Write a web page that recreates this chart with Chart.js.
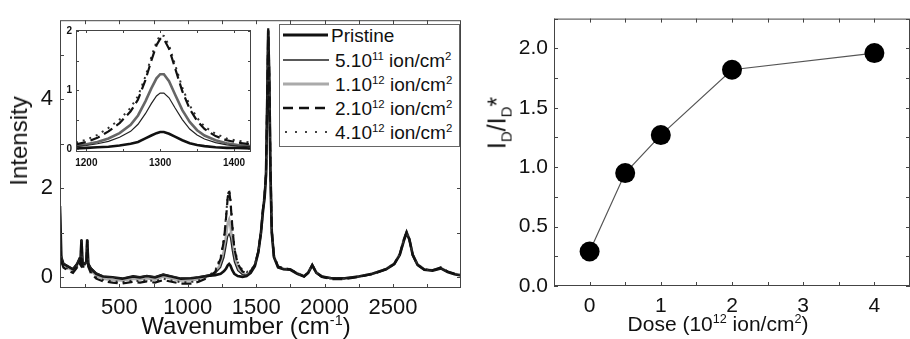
<!DOCTYPE html>
<html lang="en">
<head>
<meta charset="UTF-8">
<title>Raman spectra vs ion dose</title>
<script src="https://cdn.jsdelivr.net/npm/chart.js"></script>
<style>
    body { margin: 0; width: 910px; height: 339px; overflow: hidden; background: #fff; position: relative;
           font-family: "Liberation Sans", Arial, sans-serif; color: #111; }
    canvas { position: absolute; }
    #main { left: 0; top: 0; }
    #inset { left: 60px; top: 20px; }
    #dose { left: 480px; top: 0; }
    .lbl { position: absolute; transform: translate(-50%, -50%); white-space: nowrap; line-height: 1; }
    .rot { transform: translate(-50%, -50%) rotate(-90deg); }
    sup, sub { font-size: 60%; line-height: 0; }
    #legend { position: absolute; left: 279px; top: 24px; width: 181px; height: 123px; box-sizing: border-box;
              border: 1px solid #666; background: #fff; font-size: 19px; }
    .row { position: absolute; left: 0; width: 100%; height: 24px; }
    .row svg { position: absolute; left: 3px; top: 9px; }
    .row span { position: absolute; left: 55px; top: 3px; line-height: 1; white-space: nowrap; }
</style>
</head>
<body>
<canvas id="main" width="470" height="339"></canvas>
<canvas id="inset" width="195" height="152"></canvas>
<canvas id="dose" width="440" height="339"></canvas>

<!-- legend of the left panel -->
<div id="legend">
    <div class="row" style="top:-2px"><svg width="48" height="6"><line x1="0" y1="3" x2="45" y2="3" stroke="#111" stroke-width="3"/></svg><span style="left:51px">Pristine</span></div>
    <div class="row" style="top:23px"><svg width="48" height="6"><line x1="0" y1="3" x2="46" y2="3" stroke="#222" stroke-width="1.3"/></svg><span>5.10<sup>11</sup> ion/cm<sup>2</sup></span></div>
    <div class="row" style="top:47px"><svg width="48" height="6"><line x1="0" y1="3" x2="46" y2="3" stroke="#aaa" stroke-width="3"/></svg><span>1.10<sup>12</sup> ion/cm<sup>2</sup></span></div>
    <div class="row" style="top:71px"><svg width="48" height="6"><line x1="0" y1="3" x2="48" y2="3" stroke="#111" stroke-width="2.5" stroke-dasharray="10 6"/></svg><span>2.10<sup>12</sup> ion/cm<sup>2</sup></span></div>
    <div class="row" style="top:95px"><svg width="48" height="6"><line x1="2" y1="3" x2="48" y2="3" stroke="#444" stroke-width="2" stroke-dasharray="2 8"/></svg><span>4.10<sup>12</sup> ion/cm<sup>2</sup></span></div>
</div>

<!-- axis titles -->
<div class="lbl rot" style="left:19px; top:141px; font-size:24px">Intensity</div>
<div class="lbl" style="left:246px; top:326px; font-size:24px">Wavenumber (cm<sup>-1</sup>)</div>
<div class="lbl rot" style="left:497px; top:123px; font-size:25px">I<sub>D</sub>/I<sub>D</sub>*</div>
<div class="lbl" style="left:718px; top:323px; font-size:21px">Dose (10<sup>12</sup> ion/cm<sup>2</sup>)</div>

<script>
    // ---- left panel: Raman spectra ----
    const wavenumber = [65, 75, 90, 120, 160, 190, 205, 215, 222, 230, 245, 258, 264, 272, 290, 330, 380, 450, 520, 600,
        650, 700, 760, 820, 880, 950, 1020, 1080, 1140, 1200, 1240, 1265, 1280, 1292, 1302, 1312, 1325, 1340, 1365, 1400,
        1430, 1460, 1490, 1515, 1535, 1550, 1562, 1572, 1580, 1588, 1596, 1604, 1614, 1630, 1660, 1700, 1750, 1800, 1850, 1880,
        1910, 1940, 1980, 2050, 2150, 2250, 2350, 2450, 2510, 2550, 2580, 2600, 2620, 2645, 2680, 2730, 2790, 2850, 2900, 2950, 3000];

    const pristine = [1.6, 0.45, 0.3, 0.25, 0.18, 0.3, 0.4, 0.35, 0.85, 0.3, 0.3, 0.35, 0.85, 0.3, 0.2, 0.08, 0.02, 0.0, -0.03, 0.02,
        0.0, 0.03, 0.0, 0.06, 0.02, -0.03, -0.02, 0.0, 0.03, 0.05, 0.08, 0.14, 0.2, 0.27, 0.3, 0.26, 0.16, 0.08, 0.03, 0.01,
        0.03, 0.1, 0.25, 0.55, 1.0, 1.5, 1.8, 2.3, 3.8, 5.55, 4.4, 2.4, 1.0, 0.45, 0.22, 0.18, 0.17, 0.08, 0.02, 0.1,
        0.27, 0.1, 0.02, -0.02, -0.02, 0.02, 0.08, 0.18, 0.3, 0.5, 0.82, 1.0, 0.85, 0.5, 0.28, 0.17, 0.15, 0.2, 0.12, 0.07, 0.04];

    const dose5e11 = [1.9, 0.5, 0.32, 0.26, 0.2, 0.32, 0.42, 0.38, 0.86, 0.32, 0.32, 0.38, 0.86, 0.32, 0.22, 0.1, 0.03, 0.0, -0.02, 0.03,
        0.01, 0.04, 0.01, 0.07, 0.03, -0.02, -0.02, 0.01, 0.05, 0.09, 0.22, 0.45, 0.7, 0.92, 0.98, 0.88, 0.6, 0.35, 0.15, 0.06,
        0.05, 0.11, 0.26, 0.56, 1.0, 1.5, 1.82, 2.3, 3.8, 5.5, 4.4, 2.4, 1.0, 0.46, 0.23, 0.19, 0.17, 0.08, 0.02, 0.1,
        0.27, 0.1, 0.02, -0.02, -0.02, 0.02, 0.08, 0.18, 0.3, 0.5, 0.83, 1.0, 0.85, 0.5, 0.28, 0.17, 0.15, 0.2, 0.12, 0.07, 0.04];

    const dose1e12 = [0.6, 0.4, 0.28, 0.22, 0.15, 0.28, 0.38, 0.33, 0.84, 0.28, 0.28, 0.33, 0.84, 0.28, 0.16, 0.04, -0.03, -0.06, -0.07, -0.03,
        -0.05, -0.02, -0.05, 0.02, -0.03, -0.07, -0.07, -0.04, 0.02, 0.1, 0.3, 0.6, 0.95, 1.22, 1.3, 1.15, 0.8, 0.45, 0.2, 0.08,
        0.06, 0.12, 0.27, 0.57, 1.02, 1.52, 1.85, 2.35, 3.85, 5.5, 4.45, 2.45, 1.05, 0.47, 0.24, 0.19, 0.18, 0.09, 0.03, 0.11,
        0.28, 0.11, 0.02, -0.02, -0.02, 0.02, 0.08, 0.19, 0.31, 0.52, 0.85, 1.02, 0.87, 0.52, 0.29, 0.18, 0.16, 0.21, 0.13, 0.08, 0.05];

    const dose2e12 = [0.7, 0.35, 0.22, 0.16, 0.1, 0.22, 0.33, 0.28, 0.83, 0.24, 0.24, 0.3, 0.83, 0.24, 0.1, -0.03, -0.09, -0.12, -0.14, -0.1,
        -0.12, -0.09, -0.12, -0.06, -0.1, -0.14, -0.14, -0.1, -0.02, 0.12, 0.42, 0.85, 1.35, 1.8, 1.95, 1.7, 1.15, 0.65, 0.3, 0.13,
        0.1, 0.14, 0.28, 0.58, 1.02, 1.55, 1.9, 2.35, 3.9, 5.6, 4.5, 2.5, 1.05, 0.48, 0.24, 0.2, 0.18, 0.09, 0.02, 0.1,
        0.28, 0.1, 0.01, -0.04, -0.04, 0.01, 0.07, 0.18, 0.3, 0.52, 0.85, 1.02, 0.86, 0.5, 0.28, 0.17, 0.16, 0.22, 0.13, 0.08, 0.05];

    const dose4e12 = [0.8, 0.38, 0.25, 0.19, 0.12, 0.25, 0.35, 0.3, 0.84, 0.26, 0.26, 0.32, 0.84, 0.26, 0.13, 0.0, -0.06, -0.09, -0.11, -0.07,
        -0.09, -0.06, -0.09, -0.03, -0.07, -0.11, -0.11, -0.07, 0.01, 0.15, 0.46, 0.9, 1.4, 1.85, 1.97, 1.75, 1.2, 0.7, 0.34, 0.16,
        0.12, 0.15, 0.29, 0.58, 1.02, 1.55, 1.9, 2.35, 3.9, 5.6, 4.5, 2.5, 1.05, 0.48, 0.24, 0.2, 0.18, 0.09, 0.03, 0.11,
        0.28, 0.11, 0.02, -0.03, -0.03, 0.02, 0.08, 0.19, 0.31, 0.52, 0.85, 1.02, 0.86, 0.51, 0.29, 0.18, 0.16, 0.22, 0.13, 0.08, 0.05];

    // inset: zoom on the D band
    const insetWn = [1186, 1200, 1215, 1230, 1245, 1260, 1270, 1280, 1288, 1295, 1300, 1305, 1312, 1320, 1330, 1340, 1350, 1360, 1375, 1390, 1405, 1423];
    const insetPristine = [0.01, 0.02, 0.03, 0.04, 0.06, 0.09, 0.12, 0.18, 0.23, 0.27, 0.29, 0.29, 0.26, 0.21, 0.15, 0.10, 0.07, 0.05, 0.03, 0.02, 0.02, 0.01];
    const inset5e11 = [0.04, 0.06, 0.09, 0.13, 0.2, 0.3, 0.42, 0.6, 0.77, 0.9, 0.95, 0.95, 0.87, 0.7, 0.5, 0.34, 0.24, 0.17, 0.11, 0.07, 0.05, 0.04];
    const inset1e12 = [0.05, 0.08, 0.12, 0.18, 0.27, 0.41, 0.57, 0.81, 1.03, 1.2, 1.27, 1.27, 1.15, 0.93, 0.66, 0.46, 0.32, 0.23, 0.15, 0.1, 0.07, 0.05];
    const inset2e12 = [0.08, 0.12, 0.19, 0.3, 0.44, 0.64, 0.84, 1.17, 1.5, 1.76, 1.87, 1.87, 1.7, 1.38, 0.98, 0.68, 0.48, 0.34, 0.22, 0.15, 0.11, 0.08];
    const inset4e12 = [0.11, 0.16, 0.24, 0.36, 0.5, 0.7, 0.9, 1.23, 1.56, 1.82, 1.93, 1.92, 1.76, 1.44, 1.04, 0.74, 0.53, 0.38, 0.26, 0.18, 0.14, 0.11];

    // ---- right panel: ID/ID* vs dose ----
    const doses = [0, 0.5, 1, 2, 4];
    const ratio = [0.29, 0.95, 1.27, 1.82, 1.96];

    // tick labels
    const wnTicks = [500, 1000, 1500, 2000, 2500];
    const intensityTicks = [0, 2, 4];
    const insetWnTicks = [1200, 1300, 1400];
    const insetIntensityTicks = [0, 1, 2];
    const doseTicks = [0, 1, 2, 3, 4];
    const ratioTicks = [0, 0.5, 1, 1.5, 2];

    const seriesNames = ['Pristine', '5.10^11 ion/cm2', '1.10^12 ion/cm2', '2.10^12 ion/cm2', '4.10^12 ion/cm2'];
    const ink = '#111';

    // one style per series, same order as seriesNames
    const styles = [
        { borderColor: '#111', borderWidth: 2.6, order: 4 },
        { borderColor: '#222', borderWidth: 1.2, order: 3 },
        { borderColor: '#aaa', borderWidth: 2.6, order: 5 },
        { borderColor: '#111', borderWidth: 2.2, borderDash: [10, 5], order: 1 },
        { borderColor: '#333', borderWidth: 2, borderDash: [2, 5], order: 2 }
    ];

    function toPoints(xs, ys) {
        return xs.map((x, i) => ({ x: x, y: ys[i] }));
    }

    function spectra(xs, list, grey) {
        return list.map((ys, k) => Object.assign({
            label: seriesNames[k],
            data: toPoints(xs, ys),
            pointRadius: 0,
            tension: 0,
            fill: false
        }, styles[k], (k === 2 && grey) ? { borderColor: grey } : {}));
    }

    // frame box + inward ticks on all four sides
    const frameTicks = {
        id: 'frameTicks',
        beforeDatasetsDraw(chart, args, opts) {
            if (!opts.fillWhite) return;
            const a = chart.chartArea;
            chart.ctx.save();
            chart.ctx.fillStyle = '#fff';
            chart.ctx.fillRect(a.left, a.top, a.right - a.left, a.bottom - a.top);
            chart.ctx.restore();
        },
        afterDatasetsDraw(chart, args, opts) {
            const ctx = chart.ctx;
            const a = chart.chartArea;
            const x = chart.scales.x, y = chart.scales.y;
            ctx.save();
            ctx.strokeStyle = '#444';
            ctx.lineWidth = 1;
            ctx.strokeRect(a.left + 0.5, a.top + 0.5, a.right - a.left - 1, a.bottom - a.top - 1);
            function mark(scale, step, len) {
                let v = Math.ceil(scale.min / step) * step;
                for (; v <= scale.max + 1e-9; v += step) {
                    const p = Math.round(scale.getPixelForValue(v)) + 0.5;
                    ctx.beginPath();
                    if (scale.isHorizontal()) {
                        ctx.moveTo(p, a.bottom); ctx.lineTo(p, a.bottom - len);
                        ctx.moveTo(p, a.top); ctx.lineTo(p, a.top + len);
                    } else {
                        ctx.moveTo(a.left, p); ctx.lineTo(a.left + len, p);
                        ctx.moveTo(a.right, p); ctx.lineTo(a.right - len, p);
                    }
                    ctx.stroke();
                }
            }
            mark(x, opts.xStep, opts.len);
            mark(y, opts.yStep, opts.len);
            ctx.restore();
        }
    };

    function axis(min, max, tickList, size, isX, font, padding, fmt) {
        return {
            type: 'linear',
            min: min,
            max: max,
            afterBuildTicks: s => { s.ticks = tickList.map(v => ({ value: v })); },
            afterFit: s => { if (isX) s.height = size; else s.width = size; },
            grid: { display: false, drawTicks: false },
            border: { display: false },
            ticks: {
                autoSkip: false,
                maxRotation: 0,
                padding: padding,
                color: ink,
                font: font,
                callback: fmt || (v => String(v))
            }
        };
    }

    const bigFont = { family: '"Liberation Sans", Arial, sans-serif', size: 22 };
    const smallFont = { family: '"Liberation Sans", Arial, sans-serif', size: 10, weight: 'bold' };
    const doseFont = { family: '"Liberation Sans", Arial, sans-serif', size: 21 };

    new Chart(document.getElementById('main'), {
        type: 'line',
        data: { datasets: spectra(wavenumber, [pristine, dose5e11, dose1e12, dose2e12, dose4e12]) },
        options: {
            responsive: false,
            animation: false,
            layout: { padding: { top: 11, right: 9, left: 0, bottom: 0 } },
            plugins: {
                legend: { display: false },
                tooltip: { enabled: false },
                frameTicks: { xStep: 250, yStep: 1, len: 4 }
            },
            scales: {
                x: axis(65, 2998, wnTicks, 51, true, bigFont, 7),
                y: axis(-0.24, 5.78, intensityTicks, 60, false, bigFont, 7)
            }
        },
        plugins: [frameTicks]
    });

    new Chart(document.getElementById('inset'), {
        type: 'line',
        data: { datasets: spectra(insetWn, [insetPristine, inset5e11, inset1e12, inset2e12, inset4e12], '#666') },
        options: {
            responsive: false,
            animation: false,
            layout: { padding: { top: 4, right: 4, left: 0, bottom: 0 } },
            plugins: {
                legend: { display: false },
                tooltip: { enabled: false },
                frameTicks: { xStep: 50, yStep: 0.5, len: 3, fillWhite: true }
            },
            scales: {
                x: axis(1186, 1423, insetWnTicks, 20, true, smallFont, 5),
                y: axis(-0.05, 2.02, insetIntensityTicks, 16, false, smallFont, 4)
            }
        },
        plugins: [frameTicks]
    });

    new Chart(document.getElementById('dose'), {
        type: 'scatter',
        data: {
            datasets: [{
                label: 'ID/ID*',
                data: toPoints(doses, ratio),
                showLine: true,
                borderColor: '#555',
                borderWidth: 1.2,
                pointRadius: 10,
                pointBackgroundColor: '#000',
                pointBorderColor: '#000',
                pointBorderWidth: 0
            }]
        },
        options: {
            responsive: false,
            animation: false,
            layout: { padding: { top: 18, right: 3, left: 0, bottom: 0 } },
            plugins: {
                legend: { display: false },
                tooltip: { enabled: false },
                frameTicks: { xStep: 0.5, yStep: 0.25, len: 4 }
            },
            scales: {
                x: axis(-0.5, 4.5, doseTicks, 53, true, doseFont, 8),
                y: axis(0, 2.25, ratioTicks, 74, false, doseFont, 6, v => v.toFixed(1))
            }
        },
        plugins: [frameTicks]
    });
</script>
</body>
</html>
